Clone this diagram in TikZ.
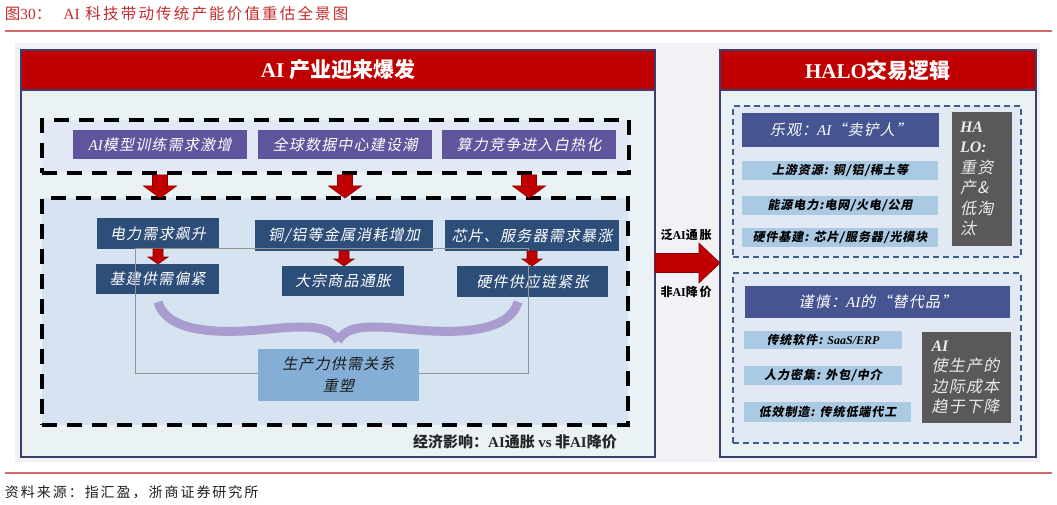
\documentclass[tikz,border=0pt]{standalone}
\usepackage{fontspec}
\setmainfont{Liberation Serif}
\newfontfamily\cjk{Noto Sans CJK SC}
\newfontfamily\cjks{Noto Sans CJK SC}[FakeSlant=0.2,LetterSpace=8]
\newfontfamily\cjkt{Noto Sans CJK SC}[LetterSpace=14]
\usetikzlibrary{calc}
\newcommand\latn[1]{{\rmfamily #1}}
\newcommand\fsz[2]{\fontsize{#1}{#2}\selectfont}
\definecolor{ttlred}{HTML}{C42B2B}
\definecolor{ttlline}{HTML}{D46A6A}
\definecolor{hdrred}{HTML}{C00000}
\definecolor{bggray}{HTML}{F1F1F6}
\definecolor{panelfill}{HTML}{EAF2F6}
\definecolor{pborder}{HTML}{3C3F6E}
\definecolor{topdash}{HTML}{E2E8F5}
\definecolor{bigdash}{HTML}{D6E3F0}
\definecolor{purp}{HTML}{5E559C}
\definecolor{navy}{HTML}{2D4E79}
\definecolor{midblue}{HTML}{84AED5}
\definecolor{bracec}{HTML}{A99DD0}
\definecolor{arrred}{HTML}{C00000}
\definecolor{arrdark}{HTML}{8B0000}
\definecolor{headblue}{HTML}{465491}
\definecolor{stripc}{HTML}{AACAE4}
\definecolor{gbox}{HTML}{595959}
\definecolor{rdash}{HTML}{3D5F8E}
\definecolor{rdfill}{HTML}{E2E9F4}
\newcommand\blkdown[5]{%
  \path[fill=arrred, draw=arrdark, line width=0.6pt] let \p1=(#1), \p2=(#2) in
    (\x1-#3pt,\y1) -- (\x1+#3pt,\y1) -- (\x1+#3pt,\y2+#5pt) -- (\x1+#4pt,\y2+#5pt)
    -- (\x1,\y2) -- (\x1-#4pt,\y2+#5pt) -- (\x1-#3pt,\y2+#5pt) -- cycle;}
\begin{document}
\begin{tikzpicture}[x=1pt,y=-1pt,
  every node/.style={inner sep=0pt, outer sep=0pt},
  panel/.style={fill=panelfill, draw=pborder, line width=1.1pt},
  hdr/.style={fill=hdrred, draw=pborder, line width=1.1pt, text=white, minimum height=40,
    font=\cjk\bfseries\fsz{21}{25}},
  blackdash/.style={draw=black, line width=3.5pt, dash pattern=on 15pt off 10pt},
  bluedash/.style={draw=rdash, line width=1.3pt, dash pattern=on 6pt off 4pt, fill=rdfill},
  purpbox/.style={fill=purp, text=white, minimum width=174, minimum height=29,
    font=\cjks\fsz{15}{18}},
  navybox/.style={fill=navy, text=white, minimum height=31, font=\cjks\fsz{15}{18}},
  midbox/.style={fill=midblue, text=black!90, align=center, font=\cjks\fsz{15}{22}},
  bluehead/.style={fill=headblue, text=white, font=\cjks\fsz{15}{18}},
  stripbox/.style={fill=stripc, text=black, minimum height=19, font=\cjks\bfseries\fsz{12}{14}},
  graybox/.style={fill=gbox, text=white!92!black, align=left, font=\cjks\fsz{16}{20.5}},
  arrlabel/.style={text=black, font=\cjkt\bfseries\fsz{12}{14}}
]
\useasboundingbox (0,0) rectangle (1057,505);
% title
\node[anchor=west, text=ttlred, font=\cjkt\fsz{15.5}{18}] (title) at (5,14)
  {图\latn{30}：\hspace{12pt}\latn{AI} 科技带动传统产能价值重估全景图};
\draw[ttlline, line width=2pt] (5,31) -- (1052,31);
% background
\fill[bggray] (15,43) rectangle (1040,462);
% panels
\node[panel, minimum width=634, minimum height=367] (lpanel) at (338,273.5) {};
\node[hdr, minimum width=634] (lhdr) at (338,70) {\latn{AI} 产业迎来爆发};
\node[panel, minimum width=316, minimum height=367] (rpanel) at (878,273.5) {};
\node[hdr, minimum width=316] (rhdr) at (878,70) {\latn{HALO}交易逻辑};
% left dashed boxes
\node[blackdash, fill=topdash, minimum width=587, minimum height=53] (topd) at (335.5,146.5) {};
\node[blackdash, fill=bigdash, minimum width=586, minimum height=227] (bigd) at (335,311.5) {};
% top purple boxes
\node[purpbox] (p1) at (160,144.5) {\latn{\itshape AI}模型训练需求激增};
\node[purpbox] (p2) at (345,144.5) {全球数据中心建设潮};
\node[purpbox] (p3) at (529,144.5) {算力竞争进入白热化};
% navy boxes
\node[navybox, minimum width=122] (n1) at (158,233.5) {电力需求飙升};
\node[navybox, minimum width=123, minimum height=30] (n2) at (157.5,279) {基建供需偏紧};
\node[navybox, minimum width=178] (n3) at (344,235.5) {铜/铝等金属消耗增加};
\node[navybox, minimum width=122, minimum height=30] (n4) at (343,281) {大宗商品通胀};
\node[navybox, minimum width=174] (n5) at (532,235.5) {芯片、服务器需求暴涨};
\node[navybox, minimum width=151] (n6) at (532.5,281.5) {硬件供应链紧张};
% brace
\draw[bracec, line width=9pt]
  (158,302) .. controls (168,336) and (230,333) .. (270,329)
  .. controls (310,325) and (330,326) .. (338,341);
\draw[bracec, line width=9pt]
  (338,341) .. controls (346,326) and (366,325) .. (406,329)
  .. controls (446,333) and (508,336) .. (518,302);
% grey frame
\draw[black!42, line width=0.9pt] (135,248) rectangle (528,373);
% centre box
\node[midbox, minimum width=161, minimum height=52] (mid) at (338.5,375)
  {生产力供需关系\\重塑};
% arrows
\blkdown{$(p1.south |- topd.south)+(0,2)$}{p1.south |- bigd.north}{7.5}{16.5}{12}
\blkdown{$(p2.south |- topd.south)+(0,2)$}{p2.south |- bigd.north}{7.5}{16.5}{12}
\blkdown{$(p3.south |- topd.south)+(0,2)$}{p3.south |- bigd.north}{7.5}{16.5}{12}
\blkdown{n1.south}{n2.north}{5}{10}{7}
\blkdown{n3.south}{n4.north}{5}{10}{7}
\blkdown{n5.south}{n6.north}{5}{10}{7}
% economic label
\node[font=\cjk\bfseries\fsz{15}{18}, text=black!85] (econ) at (515,442)
  {经济影响：\latn{AI}通胀 \latn{vs} 非\latn{AI}降价};
% middle arrow
\coordinate (ma) at (655,263);
\path[fill=arrred, draw=arrdark, line width=0.6pt] let \p1=(ma), \p2=(rpanel.west |- ma) in
  (\x1,\y1+9.5pt) -- (\x2-21pt,\y1+9.5pt) -- (\x2-21pt,\y1+20pt) -- (\x2,\y1)
  -- (\x2-21pt,\y1-20pt) -- (\x2-21pt,\y1-9.5pt) -- (\x1,\y1-9.5pt) -- cycle;
\node[arrlabel] (ml1) at (686,235) {泛\latn{AI}通胀};
\node[arrlabel] (ml2) at (686,292) {非\latn{AI}降价};
% right dashed boxes
\node[bluedash, minimum width=288, minimum height=151] (rd1) at (877,181.5) {};
\node[bluedash, minimum width=288, minimum height=170] (rd2) at (877,358) {};
% upper right content
\node[bluehead, minimum width=197, minimum height=34] (h1) at (840.5,130)
  {乐观：\latn{\itshape AI}“卖铲人”};
\node[stripbox, minimum width=196] (s1) at (840,170.5) {上游资源: 铜/铝/稀土等};
\node[stripbox, minimum width=196] (s2) at (840,205.5) {能源电力:电网/火电/公用};
\node[stripbox, minimum width=196] (s3) at (840,237.5) {硬件基建: 芯片/服务器/光模块};
\node[graybox, minimum width=60, minimum height=134, text width=44] (g1) at (982,179)
  {\latn{\bfseries\itshape HA}\\\latn{\bfseries\itshape LO:}\\重资\\产\&\\低淘\\汰};
% lower right content
\node[bluehead, minimum width=265, minimum height=32] (h2) at (877.5,302)
  {谨慎：\latn{\itshape AI}的“替代品”};
\node[stripbox, minimum width=158, minimum height=18] (s4) at (823,340)
  {传统软件: \latn{\itshape SaaS/ERP}};
\node[stripbox, minimum width=158] (s5) at (823,375.5) {人力密集: 外包/中介};
\node[stripbox, minimum width=167, minimum height=20] (s6) at (827.5,412) {低效制造: 传统低端代工};
\node[graybox, minimum width=89, minimum height=91, text width=70] (g2) at (966.5,377.5)
  {\latn{\bfseries\itshape AI}\\使生产的\\边际成本\\趋于下降};
% footer
\draw[ttlline, line width=2pt] (5,473) -- (1052,473);
\node[anchor=west, text=black!88, font=\cjkt\fsz{14}{16}] (src) at (5,492)
  {资料来源：指汇盈，浙商证券研究所};
\end{tikzpicture}
\end{document}
